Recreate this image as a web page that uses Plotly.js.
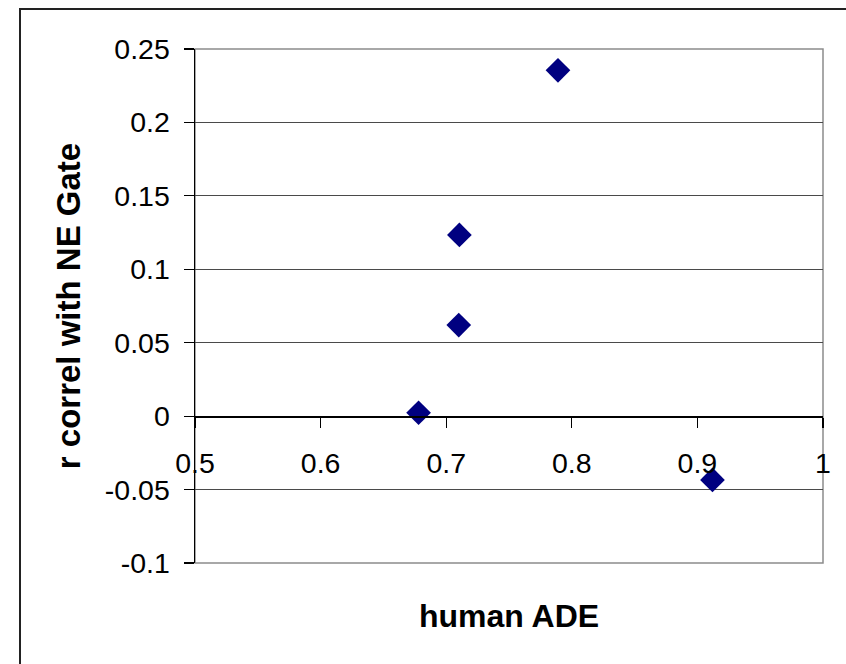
<!DOCTYPE html>
<html>
<head>
<meta charset="utf-8">
<script src="https://cdn.plot.ly/plotly-3.0.1.min.js"></script>
<style>
html,body{margin:0;padding:0;background:#fff;overflow:hidden;}
#wrap{position:relative;width:846px;height:664px;}
#frame{position:absolute;left:19px;top:8px;width:1000px;height:1000px;border-left:2px solid #222;border-top:2px solid #222;pointer-events:none;}
#chart{position:absolute;left:0;top:0;width:846px;height:664px;}
</style>
</head>
<body>
<div id="wrap"><div id="chart"></div><div id="frame"></div></div>
<script>
// Data
const humanADE = [0.678, 0.710, 0.7105, 0.789, 0.912];
const rCorrelNEGate = [0.0023, 0.0620, 0.1234, 0.2355, -0.0434];
const xTickValues = [0.5, 0.6, 0.7, 0.8, 0.9, 1];
const xTickLabels = ['0.5', '0.6', '0.7', '0.8', '0.9', '1'];
const yTickValues = [-0.1, -0.05, 0, 0.05, 0.1, 0.15, 0.2, 0.25];
const yTickLabels = ['-0.1', '-0.05', '0', '0.05', '0.1', '0.15', '0.2', '0.25'];
const xTitle = 'human ADE';
const yTitle = 'r correl with NE Gate';

const FONT = '"Liberation Sans", Arial, sans-serif';

const trace = {
  type: 'scatter',
  mode: 'markers',
  x: humanADE,
  y: rCorrelNEGate,
  marker: {symbol: 'diamond', size: 19, color: '#000080', line: {width: 0}},
  hoverinfo: 'x+y',
  cliponaxis: false
};

const layout = {
  width: 846,
  height: 664,
  margin: {l: 195, r: 23, t: 49, b: 101, pad: 0},
  paper_bgcolor: '#ffffff',
  plot_bgcolor: '#ffffff',
  showlegend: false,
  font: {family: FONT, color: '#000', size: 28},
  xaxis: {
    range: [0.5, 1],
    tickmode: 'array',
    tickvals: xTickValues,
    ticktext: xTickLabels,
    anchor: 'free',
    position: 0.1 / 0.35,
    showline: true,
    linecolor: '#000',
    linewidth: 1.5,
    ticks: 'outside',
    ticklen: 10,
    tickwidth: 1.2,
    tickcolor: '#000',
    showgrid: false,
    zeroline: false,
    tickfont: {family: FONT, size: 28.5, color: '#000'},
    ticklabelstandoff: 11,
    title: {text: xTitle, font: {family: FONT, size: 32, color: '#000', weight: 'bold'}, standoff: 127}
  },
  yaxis: {
    range: [-0.1, 0.25],
    tickmode: 'array',
    tickvals: yTickValues,
    ticktext: yTickLabels,
    showline: true,
    linecolor: '#000',
    linewidth: 1.5,
    ticks: 'outside',
    ticklen: 10,
    tickwidth: 1.2,
    tickcolor: '#000',
    showgrid: true,
    gridcolor: '#4a4a4a',
    gridwidth: 1,
    zeroline: false,
    tickfont: {family: FONT, size: 28.5, color: '#000'},
    ticklabelstandoff: 8,
    title: {text: yTitle, font: {family: FONT, size: 33, color: '#000', weight: 'bold'}, standoff: 14}
  },
  shapes: [
    {type: 'rect', xref: 'paper', yref: 'paper', x0: 0, x1: 1, y0: 0, y1: 1,
     line: {color: '#8c8c8c', width: 1.5}, fillcolor: 'rgba(0,0,0,0)', layer: 'below'}
  ]
};

Plotly.newPlot('chart', [trace], layout, {displayModeBar: false, staticPlot: true});
</script>
</body>
</html>
